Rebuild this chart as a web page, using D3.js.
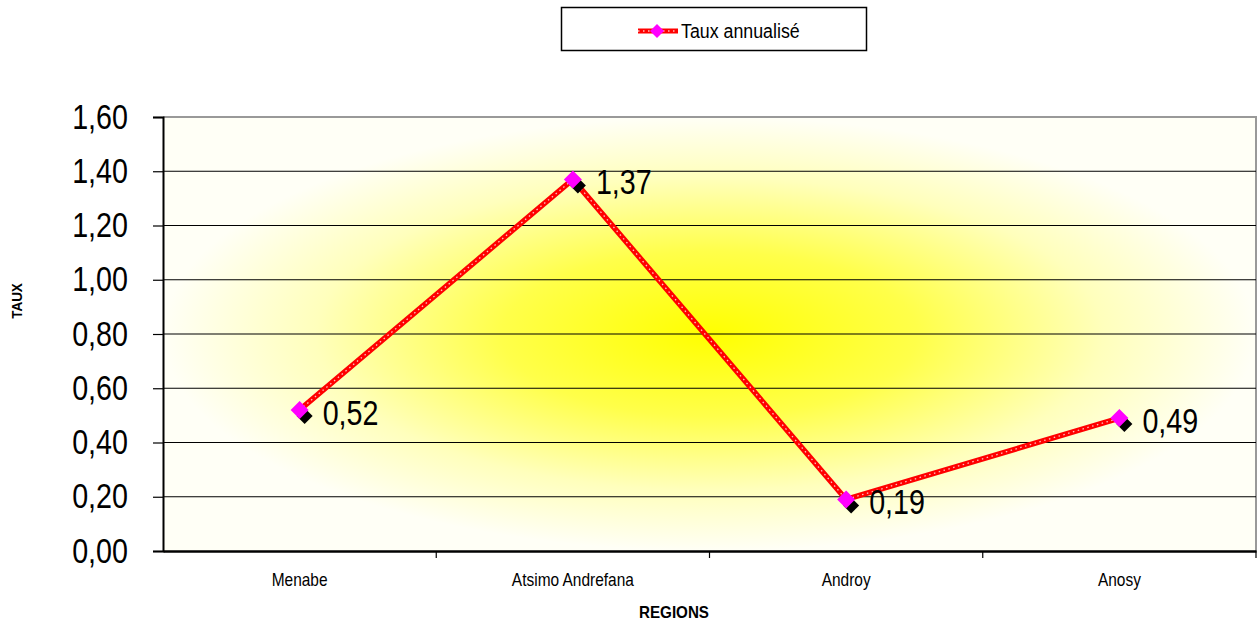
<!DOCTYPE html>
<html><head><meta charset="utf-8">
<script src="https://cdn.jsdelivr.net/npm/d3@7"></script>
<style>
body{margin:0;background:#fff;}
text{font-family:"Liberation Sans Narrow","Arial Narrow","Liberation Sans",sans-serif;}
</style></head>
<body><svg id="c" width="1257" height="625"></svg>
<script>
const categories = ["Menabe","Atsimo Andrefana","Androy","Anosy"];
const values = [0.52,1.37,0.19,0.49];
const valueLabels = ["0,52","1,37","0,19","0,49"];
const yTicks = [0,0.2,0.4,0.6,0.8,1.0,1.2,1.4,1.6];
const seriesName = "Taux annualisé";

const svg = d3.select("#c");
const L=163,R=1256,T=117,B=551;
const x = d3.scaleBand().domain(categories).range([L,R]);
const y = d3.scaleLinear().domain([0,1.6]).range([B,T]);
const fmt = d => d.toFixed(2).replace(".",",");
const SX = 0.82;

const defs = svg.append("defs");
const g = defs.append("radialGradient").attr("id","bg").attr("cx","0.5").attr("cy","0.5").attr("r","0.5");
g.append("stop").attr("offset","0").attr("stop-color","#ffff00");
g.append("stop").attr("offset","0.38").attr("stop-color","#ffff4a");
g.append("stop").attr("offset","0.72").attr("stop-color","#ffffbc");
g.append("stop").attr("offset","1").attr("stop-color","#fffff6");

svg.append("rect").attr("x",L).attr("y",T).attr("width",R-L).attr("height",B-T).attr("fill","url(#bg)");
svg.append("path").attr("d",`M${L},${T}H${R}V${B}`).attr("fill","none").attr("stroke","#999").attr("stroke-width",2);

// gridlines
svg.append("g").selectAll("line").data(yTicks.filter(d=>d>0&&d<1.6)).join("line")
  .attr("x1",L).attr("x2",R).attr("y1",d=>y(d)).attr("y2",d=>y(d)).attr("stroke","#000").attr("stroke-width",1.2);

// y axis
const ya = svg.append("g").attr("transform",`translate(${L},0)`).call(d3.axisLeft(y).tickValues(yTicks).tickFormat(fmt).tickSize(10).tickPadding(24));
ya.select(".domain").attr("stroke","#000").attr("stroke-width",2);
ya.selectAll(".tick line").attr("stroke","#000").attr("stroke-width",1.2);
ya.selectAll(".tick text").attr("font-size",35).attr("fill","#000")
  .attr("x",-35/SX).attr("transform",`scale(${SX},1)`);

// x axis
const xa = svg.append("g").attr("transform",`translate(0,${B})`).call(d3.axisBottom(x).tickSize(0).tickPadding(22));
xa.select(".domain").attr("stroke","#000").attr("stroke-width",2.5);
xa.selectAll(".tick text").attr("font-size",18).attr("fill","#000").attr("transform","scale(0.86,1)");
svg.append("g").selectAll("line").data(categories.slice(1).concat(["__end"])).join("line")
  .attr("x1",(d,i)=>i<categories.length-1?x(d):R).attr("x2",(d,i)=>i<categories.length-1?x(d):R)
  .attr("y1",B).attr("y2",B+7).attr("stroke","#000").attr("stroke-width",1.2);

// axis titles
svg.append("text").attr("transform","translate(674,618) scale(0.92,1)").attr("text-anchor","middle").attr("font-size",16.5).attr("font-weight","bold").text("REGIONS");
svg.append("text").attr("transform","translate(22,301) rotate(-90) scale(0.9,1)").attr("text-anchor","middle").attr("font-size",15).attr("font-weight","bold").text("TAUX");

// line
const pts = categories.map((c,i)=>[x(c)+x.bandwidth()/2, y(values[i])]);
const line = d3.line();
svg.append("path").attr("d",line(pts)).attr("fill","none").attr("stroke","#ff0000").attr("stroke-width",5.5).attr("stroke-linejoin","round");
svg.append("path").attr("d",line(pts)).attr("fill","none").attr("stroke","#ffc0c0").attr("stroke-width",1.3).attr("stroke-dasharray","1.5,3.5");

// markers
const diamond = (cx,cy,s)=>`M${cx},${cy-s}L${cx+s},${cy}L${cx},${cy+s}L${cx-s},${cy}Z`;
svg.append("g").selectAll("path").data(pts).join("path").attr("d",d=>diamond(d[0]+5,d[1]+6,8)).attr("fill","#000");
svg.append("g").selectAll("path").data(pts).join("path").attr("d",d=>diamond(d[0],d[1],9)).attr("fill","#ff00ff");

// data labels
svg.append("g").selectAll("text").data(pts).join("text")
  .attr("transform",d=>`translate(${d[0]+23},${d[1]+15}) scale(${SX},1)`).attr("font-size",35).attr("fill","#000")
  .text((d,i)=>valueLabels[i]);

// legend
svg.append("rect").attr("x",561.5).attr("y",7.5).attr("width",305).attr("height",43).attr("fill","#fff").attr("stroke","#000").attr("stroke-width",1.5);
svg.append("line").attr("x1",638).attr("x2",678).attr("y1",31).attr("y2",31).attr("stroke","#ff0000").attr("stroke-width",5);
svg.append("line").attr("x1",638).attr("x2",678).attr("y1",31).attr("y2",31).attr("stroke","#ffc0c0").attr("stroke-width",1.3).attr("stroke-dasharray","1.5,3.5");
svg.append("path").attr("d",diamond(657,31,7)).attr("fill","#ff00ff");
svg.append("text").attr("transform","translate(681,38) scale(0.89,1)").attr("font-size",20).text(seriesName);
</script></body></html>
